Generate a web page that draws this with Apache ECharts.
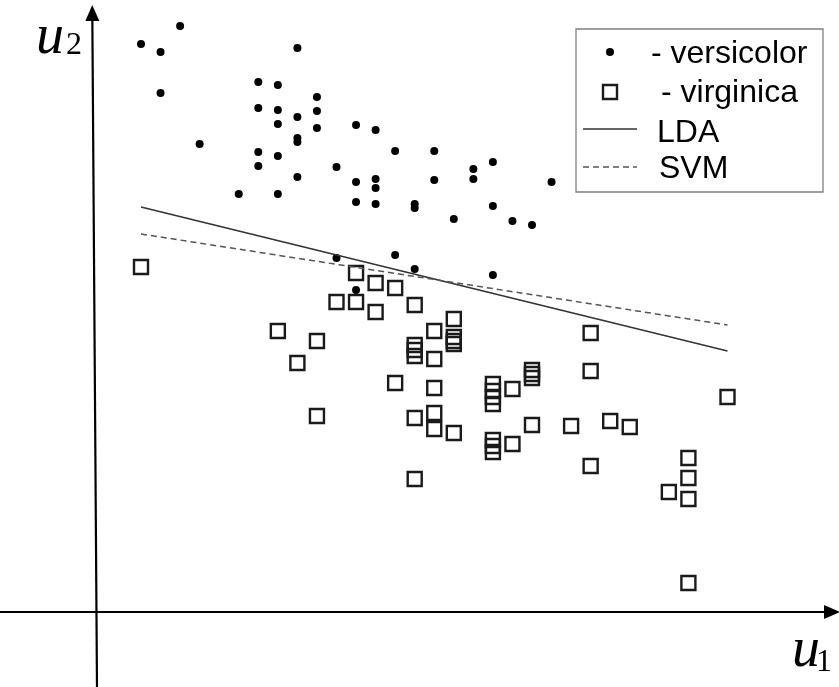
<!DOCTYPE html>
<html><head><meta charset="utf-8">
<script src="https://cdn.jsdelivr.net/npm/echarts@6/dist/echarts.min.js"></script>
<style>html,body{margin:0;padding:0;background:#fff}#c{width:839px;height:687px}</style>
</head><body><div id="c"></div>
<script>
// versicolor (dots)
const versicolorU1 = [1,2,3,9,2,7,8,10,7,8,10,8,9,10,12,13,4,9,9,7,8,14,16,7,11,9,12,13,13,16,18,19,18,22,6,8,12,13,15,15,19,17,20,21,11,14,15,19,12];
const versicolorU2 = [56.8,56.0,58.6,56.4,51.9,53.0,52.7,51.5,50.4,50.2,50.1,48.8,49.5,48.4,48.7,48.2,46.8,47.4,47.0,46.0,45.6,46.1,46.1,44.6,44.5,43.5,43.0,43.3,42.4,43.2,44.3,45.0,43.3,43.0,41.8,41.8,41.0,40.8,40.8,40.4,40.6,39.3,39.1,38.7,35.4,35.7,34.3,33.7,32.2];
// virginica (squares)
const virginicaU1 = [1,12,13,14,11,12,13,15,8,10,9,14,10,17,16,17,17,17,15,15,15,16,16,19,19,19,19,20,21,21,21,15,16,16,17,19,19,19,20,21,23,24,24,31,25,26,24,29,29,28,29,29,15];
const virginicaU2 = [34.5,33.9,32.9,32.4,31.0,31.0,30.0,30.7,28.1,27.1,24.9,22.9,19.6,29.3,28.1,27.5,27.1,26.8,26.7,26.2,25.6,25.3,22.4,22.8,22.1,21.5,20.8,22.3,24.2,23.8,23.4,19.4,19.9,18.3,17.9,17.2,16.6,16.0,16.8,18.7,18.6,27.9,24.1,21.5,19.1,18.5,14.6,15.4,13.4,12.0,11.3,2.9,13.3];
// separating lines
const ldaU1 = [1, 31];
const ldaU2 = [40.5, 26.1];
const svmU1 = [1, 31];
const svmU2 = [37.8, 28.7];
// axis extents (u1, u2)
const xRange = [-6.2123, 36.7033];
const yRange = [-7.5, 61.2];
const xAxisLine = [[-6.2123, 0], [36.345, 0]];
const yAxisLine = [[-1.2506, -7.5], [-1.491, 59.9]];

const zip = (a, b) => a.map((v, i) => [v, b[i]]);

const chart = echarts.init(document.getElementById('c'));
const serif = '"Liberation Serif", "DejaVu Serif", serif';
const sans = '"Liberation Sans", Arial, sans-serif';
chart.setOption({
  animation: false,
  backgroundColor: '#fff',
  grid: {left: 0, right: 0, top: 0, bottom: 0},
  xAxis: {type: 'value', min: xRange[0], max: xRange[1], show: false},
  yAxis: {type: 'value', min: yRange[0], max: yRange[1], show: false},
  series: [
    {
      name: 'axes', type: 'line', data: [], silent: true,
      markLine: {
        silent: true, animation: false,
        symbol: ['none', 'triangle'], symbolSize: [14, 16],
        label: {show: false},
        lineStyle: {color: '#000', width: 2.2, type: 'solid', opacity: 1},
        itemStyle: {color: '#000'},
        emphasis: {disabled: true},
        data: [
          [{coord: xAxisLine[0]}, {coord: xAxisLine[1]}],
          [{coord: yAxisLine[0]}, {coord: yAxisLine[1]}]
        ]
      }
    },
    {
      name: 'virginica', type: 'scatter', data: zip(virginicaU1, virginicaU2),
      symbol: 'rect', symbolSize: 14,
      itemStyle: {color: 'rgba(0,0,0,0)', borderColor: '#1a1a1a', borderWidth: 2.4, opacity: 1},
      emphasis: {disabled: true}
    },
    {
      name: 'versicolor', type: 'scatter', data: zip(versicolorU1, versicolorU2),
      symbol: 'circle', symbolSize: 8,
      itemStyle: {color: '#000', opacity: 1},
      emphasis: {disabled: true}
    },
    {
      name: 'LDA', type: 'line', data: zip(ldaU1, ldaU2), showSymbol: false,
      lineStyle: {color: '#333', width: 1.6}, emphasis: {disabled: true}
    },
    {
      name: 'SVM', type: 'line', data: zip(svmU1, svmU2), showSymbol: false,
      lineStyle: {color: '#555', width: 1.5, type: [6, 4]}, emphasis: {disabled: true}
    }
  ],
  graphic: [
    // axis labels
    {type: 'text', style: {text: 'u', x: 50, y: 38, align: 'center', verticalAlign: 'middle', font: 'italic 56px ' + serif, fill: '#000'}},
    {type: 'text', style: {text: '2', x: 74, y: 46, align: 'center', verticalAlign: 'middle', font: '32px ' + serif, fill: '#000'}},
    {type: 'text', style: {text: 'u', x: 806, y: 651, align: 'center', verticalAlign: 'middle', font: 'italic 56px ' + serif, fill: '#000'}},
    {type: 'text', style: {text: '1', x: 824, y: 663, align: 'center', verticalAlign: 'middle', font: '32px ' + serif, fill: '#000'}},
    // legend
    {type: 'rect', shape: {x: 576, y: 29, width: 247, height: 163}, style: {fill: '#fff', stroke: '#7f7f7f', lineWidth: 1.3}},
    {type: 'circle', shape: {cx: 610, cy: 52, r: 4}, style: {fill: '#000'}},
    {type: 'text', style: {text: '- versicolor', x: 651, y: 54, verticalAlign: 'middle', font: '32px ' + sans, fill: '#000'}},
    {type: 'rect', shape: {x: 603, y: 85, width: 14, height: 14}, style: {fill: 'none', stroke: '#1a1a1a', lineWidth: 2.4}},
    {type: 'text', style: {text: '- virginica', x: 661, y: 93, verticalAlign: 'middle', font: '32px ' + sans, fill: '#000'}},
    {type: 'line', shape: {x1: 583, y1: 129, x2: 637, y2: 129}, style: {stroke: '#333', lineWidth: 1.6}},
    {type: 'text', style: {text: 'LDA', x: 657, y: 133, verticalAlign: 'middle', font: '32px ' + sans, fill: '#000'}},
    {type: 'line', shape: {x1: 583, y1: 167, x2: 637, y2: 167}, style: {stroke: '#555', lineWidth: 1.5, lineDash: [6, 4]}},
    {type: 'text', style: {text: 'SVM', x: 659, y: 169, verticalAlign: 'middle', font: '32px ' + sans, fill: '#000'}}
  ]
});
</script>
</body></html>
